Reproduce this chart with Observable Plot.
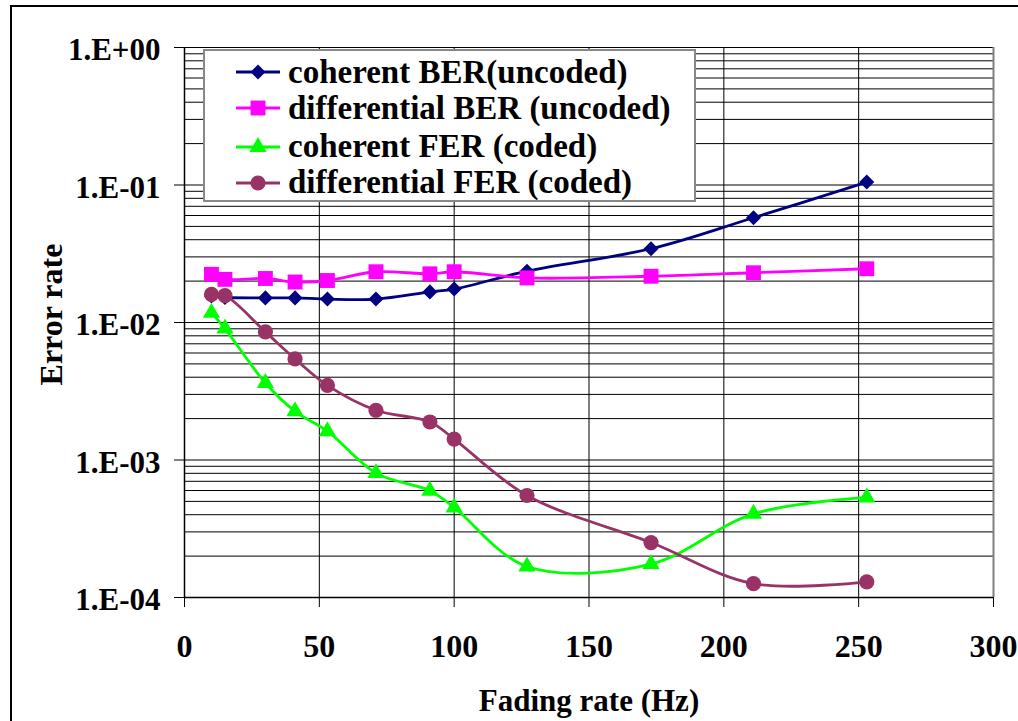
<!DOCTYPE html>
<html>
<head>
<meta charset="utf-8">
<script src="https://cdn.jsdelivr.net/npm/d3@7"></script>
<script src="https://cdn.jsdelivr.net/npm/@observablehq/plot@0.6"></script>
<style>
  html, body { margin: 0; padding: 0; background: #fff; }
  #wrap { position: relative; width: 1018px; height: 721px; overflow: hidden; font-family: 'Liberation Serif', 'Times New Roman', serif; }
  #frame { position: absolute; left: 10px; top: 5px; width: 1100px; height: 800px; border-left: 2px solid #000; border-top: 2px solid #000; box-sizing: border-box; pointer-events: none; }
  #legend { position: absolute; left: 203px; top: 49px; width: 493px; height: 153px; background: #fff; border: 2px solid #888; box-sizing: border-box; }
  .row { position: absolute; left: 0; height: 36px; display: flex; align-items: center; font-weight: bold; font-size: 33px; white-space: nowrap; color: #000; }
  .row svg { margin-left: 31px; margin-right: 8px; }
</style>
</head>
<body>
<div id="wrap"><div id="frame"></div></div>
<script>
// ---- data ----
const fadingRate = [10, 15, 30, 41, 53, 71, 91, 100, 127, 173, 211, 253];
const coherentBER = [0.0156, 0.0152, 0.0151, 0.0151, 0.0148, 0.0148, 0.0167, 0.0175, 0.0236, 0.0344, 0.0578, 0.105];
const differentialBER = [0.0224, 0.0206, 0.0209, 0.0197, 0.0202, 0.0234, 0.0226, 0.0234, 0.0211, 0.0217, 0.0230, 0.0246];
const coherentFER = [0.01175, 0.00904, 0.00363, 0.00226, 0.00162, 0.000803, 0.000598, 0.000452, 0.000168, 0.000175, 0.000406, 0.000534];
const differentialFER = [0.0160, 0.0157, 0.00855, 0.00543, 0.00349, 0.00230, 0.00189, 0.00142, 0.000552, 0.000251, 0.000126, 0.000130];

const seriesNames = ["coherent BER(uncoded)", "differential BER (uncoded)", "coherent FER (coded)", "differential FER (coded)"];
const seriesValues = [coherentBER, differentialBER, coherentFER, differentialFER];
const seriesColors = ["#000080", "#FF00FF", "#00FF00", "#993366"];
const seriesSymbols = ["square", "square", "triangle", "circle"];
const seriesRotate = [45, 0, 0, 0];
const seriesR = [6.0, 8.4, 6.4, 7.6];

const xTicks = [0, 50, 100, 150, 200, 250, 300];
const yTicks = [1, 1e-1, 1e-2, 1e-3, 1e-4];
const yTickLabels = ["1.E+00", "1.E-01", "1.E-02", "1.E-03", "1.E-04"];
const xLabel = "Fading rate (Hz)";
const yLabel = "Error rate";

// minor log grid positions
const yGrid = [];
for (let k = -4; k <= -1; k++) for (let m = 1; m <= 9; m++) yGrid.push(m * Math.pow(10, k));
yGrid.push(1);

const rows = [];
seriesNames.forEach((name, s) => {
  fadingRate.forEach((x, i) => rows.push({series: name, s, x, y: seriesValues[s][i]}));
});

const font = "'Liberation Serif', 'Times New Roman', serif";
const marks = [
  Plot.ruleY(yGrid, {y: d => d, stroke: "#000", strokeWidth: 1}),
  Plot.ruleX([50, 100, 150, 200, 250], {x: d => d, stroke: "#000", strokeWidth: 1}),
  Plot.ruleX([300], {x: d => d, stroke: "#808080", strokeWidth: 2}),
  Plot.ruleX([0], {x: d => d, stroke: "#000", strokeWidth: 1.5}),
  Plot.ruleY([1e-4], {y: d => d, stroke: "#000", strokeWidth: 1.5}),
  Plot.axisX({ticks: xTicks, tickSize: 10, tickFormat: () => "", label: null, stroke: "#000"}),
  Plot.axisY({ticks: yTicks, tickSize: 10, tickFormat: () => "", label: null, stroke: "#000"}),
  Plot.text(xTicks, {x: d => d, y: 1e-4, dy: 49, text: d => String(d), fontSize: 32, fontWeight: "bold", fontFamily: font, fill: "#000", lineAnchor: "middle"}),
  Plot.text(yTicks, {x: 0, y: d => d, dx: -24, dy: 3, text: (d, i) => yTickLabels[i], textAnchor: "end", fontSize: 31, fontWeight: "bold", fontFamily: font, fill: "#000", lineAnchor: "middle"}),
  Plot.text([xLabel], {frameAnchor: "bottom", dy: 104, text: d => d, textAnchor: "middle", fontSize: 31, fontWeight: "bold", fontFamily: font, fill: "#000", lineAnchor: "middle"}),
  Plot.text([yLabel], {frameAnchor: "left", dx: -133, dy: -8, rotate: -90, text: d => d, textAnchor: "middle", fontSize: 32, fontWeight: "bold", fontFamily: font, fill: "#000", lineAnchor: "middle"})
];
seriesNames.forEach((name, s) => {
  const d = rows.filter(r => r.s === s);
  marks.push(Plot.line(d, {x: "x", y: "y", stroke: seriesColors[s], strokeWidth: 2.8, curve: "catmull-rom"}));
  marks.push(Plot.dot(d, {x: "x", y: "y", fill: seriesColors[s], stroke: "none", symbol: seriesSymbols[s], r: seriesR[s], rotate: seriesRotate[s]}));
});

const chart = Plot.plot({
  width: 1018,
  height: 721,
  marginLeft: 184,
  marginRight: 25,
  marginTop: 47,
  marginBottom: 124,
  style: {fontFamily: font, fontWeight: "bold", background: "transparent", overflow: "visible"},
  x: {domain: [0, 300]},
  y: {type: "log", domain: [1e-4, 1]},
  marks
});
const wrap = document.getElementById("wrap");
wrap.insertBefore(chart, wrap.firstChild);

// legend
const legend = document.createElement("div");
legend.id = "legend";
wrap.appendChild(legend);
const rowCenters = [23, 59, 97.5, 133.5];
seriesNames.forEach((name, s) => {
  const row = document.createElement("div");
  row.className = "row";
  row.style.top = (rowCenters[s] - 18 - 2) + "px";
  const svg = d3.create("svg").attr("width", 44).attr("height", 24);
  svg.append("line").attr("x1", 0).attr("x2", 44).attr("y1", 12).attr("y2", 12).attr("stroke", seriesColors[s]).attr("stroke-width", 2.8);
  const sym = {square: d3.symbolSquare, triangle: d3.symbolTriangle, circle: d3.symbolCircle}[seriesSymbols[s]];
  svg.append("path").attr("d", d3.symbol(sym, seriesR[s] * seriesR[s] * Math.PI)())
    .attr("transform", `translate(22,12) rotate(${seriesRotate[s]})`).attr("fill", seriesColors[s]);
  row.appendChild(svg.node());
  const span = document.createElement("span");
  span.textContent = name;
  row.appendChild(span);
  legend.appendChild(row);
});
</script>
</body>
</html>
